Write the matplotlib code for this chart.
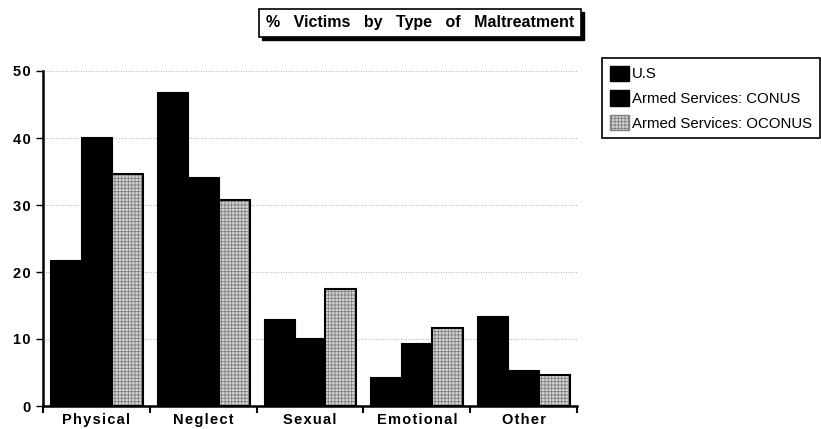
import numpy as np
import matplotlib
matplotlib.use('Agg')
import matplotlib.pyplot as plt
from matplotlib.patches import Patch, Rectangle

categories = ['Physical', 'Neglect', 'Sexual', 'Emotional', 'Other']
us = [21.8, 46.8, 13.0, 4.4, 13.4]
conus = [40.2, 34.2, 10.1, 9.4, 5.4]
oconus = [34.6, 30.7, 17.5, 11.6, 4.6]
series_names = ['U.S', 'Armed Services: CONUS', 'Armed Services: OCONUS']

plt.rcParams['font.family'] = ['Liberation Sans', 'DejaVu Sans']
plt.rcParams['hatch.linewidth'] = 0.6

fig = plt.figure(figsize=(8.21, 4.29), dpi=100)
ax = fig.add_axes([43 / 821, 1 - 406 / 429, 534 / 821, 335 / 429])

x = np.arange(len(categories))
w = 0.29
ax.bar(x - w, us, w, color='black', edgecolor='black', linewidth=0.8, zorder=3)
ax.bar(x, conus, w, color='black', edgecolor='black', linewidth=0.8, zorder=3)
ax.bar(x + w, oconus, w, color='#d4d4d4', edgecolor='#808080', hatch='+++++',
       linewidth=0, zorder=3)
ax.bar(x + w, oconus, w, fill=False, edgecolor='black', linewidth=1.5, zorder=4)

ax.set_xlim(-0.5, len(categories) - 0.5)
ax.set_ylim(0, 50)
ax.set_yticks([0, 10, 20, 30, 40, 50])
ax.set_yticklabels(['\u200a'.join(str(v)) for v in [0, 10, 20, 30, 40, 50]],
                   fontweight='bold', fontsize=10.5)
ax.yaxis.grid(True, linestyle=(0, (1, 2)), color='#999999', linewidth=0.6)
ax.set_axisbelow(True)

ax.set_xticks(x)
ax.set_xticklabels(['\u200a'.join(c) for c in categories], fontweight='bold', fontsize=10.5)
ax.set_xticks(np.arange(len(categories) + 1) - 0.5, minor=True)
ax.tick_params(axis='x', which='major', length=0, pad=5)
ax.tick_params(axis='x', which='minor', length=5, width=1.5, direction='out')
ax.tick_params(axis='y', length=5, width=1.0, direction='out', pad=4)

for s in ['top', 'right']:
    ax.spines[s].set_visible(False)
ax.spines['left'].set_linewidth(1.8)
ax.spines['bottom'].set_linewidth(1.8)

# title with drop shadow
title = '%   Victims   by   Type   of   Maltreatment'
tx, ty = 420 / 821, 1 - 23 / 429
t = fig.text(tx, ty, title, ha='center', va='center', fontsize=11.5, fontweight='bold',
             zorder=5,
             bbox=dict(boxstyle='square,pad=0.4', facecolor='white', edgecolor='black',
                       linewidth=1.2))
fig.canvas.draw()
bb = t.get_bbox_patch().get_window_extent()
fig.patches.append(Rectangle((bb.x0 + 3, bb.y0 - 3), bb.width, bb.height,
                             transform=None, facecolor='black', edgecolor='black',
                             zorder=4))

handles = [Patch(facecolor='black', edgecolor='black'),
           Patch(facecolor='black', edgecolor='black'),
           Patch(facecolor='#d4d4d4', edgecolor='#808080', hatch='+++++')]
leg = fig.legend(handles, series_names, loc='upper left',
                 bbox_to_anchor=(602 / 821, 1 - 58 / 429), borderaxespad=0,
                 fancybox=False, framealpha=1, edgecolor='black', fontsize=10.8,
                 handlelength=1.3, handleheight=1.2, handletextpad=0.2,
                 labelspacing=0.6, borderpad=0.5)
leg.get_frame().set_linewidth(1.2)

fig.savefig('out.png', dpi=100)
